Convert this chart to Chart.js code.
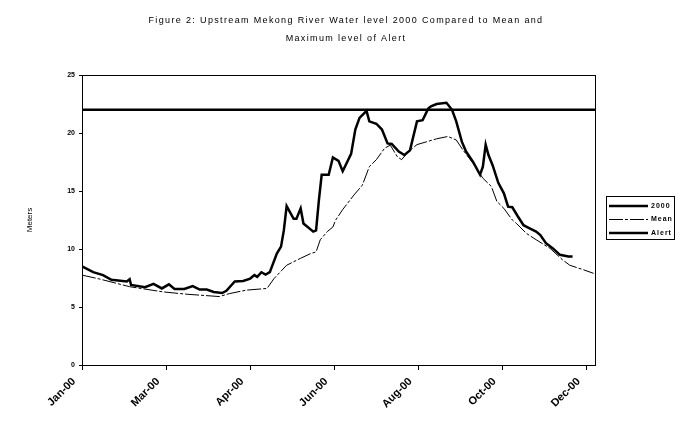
<!DOCTYPE html>
<html lang="en">
<head>
    <meta charset="UTF-8">
    <title>Upstream Mekong River Water level 2000</title>
    <style>
        body {
            margin: 0;
            padding: 0;
            background: #fff;
        }
        #chartBox {
            width: 683px;
            height: 434px;
        }
    </style>
    <script src="https://cdn.jsdelivr.net/npm/chart.js"></script>
</head>
<body>
    <div id="chartBox">
        <canvas id="levelChart" width="683" height="434"></canvas>
    </div>

    <script>
        // day of year (0 = 1 Jan 2000) and water level in meters
        const days2000 = [0, 8, 15, 21, 32, 34, 35, 45, 51, 57, 62, 66, 73, 79, 84, 89, 94, 100, 103, 109,
            115, 120, 123, 125, 128, 131, 134, 139, 142, 144, 146, 151, 153, 156, 158, 165, 167, 169, 171, 176,
            179, 183, 186, 192, 195, 198, 203, 205, 210, 214, 218, 221, 226, 230, 234, 239, 243, 247, 249, 253,
            260, 264, 267, 271, 274, 279, 284, 286, 288, 290, 293, 297, 301, 304, 307, 311, 315, 319, 324, 327,
            331, 336, 341, 347, 350];
        const level2000 = [8.5, 8.0, 7.75, 7.35, 7.2, 7.4, 6.9, 6.7, 7.0, 6.6, 6.95, 6.55, 6.55, 6.8, 6.5, 6.5, 6.3, 6.2, 6.4, 7.2,
            7.25, 7.45, 7.75, 7.6, 8.0, 7.8, 8.0, 9.6, 10.2, 11.6, 13.7, 12.6, 12.6, 13.5, 12.2, 11.5, 11.6, 14.2, 16.4, 16.4,
            17.9, 17.6, 16.7, 18.2, 20.3, 21.3, 21.9, 21.0, 20.8, 20.3, 19.1, 19.05, 18.4, 18.1, 18.5, 21.0, 21.1, 22.1, 22.3, 22.5,
            22.6, 22.0, 21.0, 19.25, 18.4, 17.5, 16.4, 17.1, 19.0, 18.1, 17.2, 15.7, 14.8, 13.65, 13.6, 12.8, 12.05, 11.8, 11.5, 11.2,
            10.5, 10.05, 9.5, 9.35, 9.35];

        const daysMean = [0, 13, 34, 58, 75, 98, 105, 117, 132, 137, 146, 156, 163, 167, 170, 175, 179, 181, 186, 194,
            200, 205, 210, 216, 220, 225, 228, 233, 239, 246, 253, 261, 267, 272, 279, 286, 292, 296, 301, 307,
            310, 317, 324, 334, 343, 348, 358, 365];
        const levelMean = [7.75, 7.4, 6.75, 6.3, 6.1, 5.9, 6.15, 6.45, 6.6, 7.45, 8.6, 9.2, 9.6, 9.75, 10.8, 11.5, 11.9, 12.5, 13.4, 14.65,
            15.5, 17.1, 17.7, 18.7, 18.95, 17.95, 17.7, 18.4, 19.0, 19.25, 19.5, 19.7, 19.4, 18.5, 17.4, 16.1, 15.4, 14.1, 13.5, 12.5,
            12.2, 11.35, 10.8, 10.05, 9.05, 8.6, 8.2, 7.9];

        const daysAlert = [0, 366];
        const levelAlert = [22, 22];

        const tickDays = [0, 60, 120, 180, 240, 300, 360];
        const tickLabels = ['Jan-00', 'Mar-00', 'Apr-00', 'Jun-00', 'Aug-00', 'Oct-00', 'Dec-00'];

        const titleLines = ['Figure 2: Upstream Mekong River Water level 2000 Compared to Mean and',
                            'Maximum level of Alert'];

        const toPoints = (xs, ys) => xs.map((d, i) => ({ x: d, y: ys[i] }));

        // Excel-style extras: spaced-out title, plot frame, boxed legend on the right
        const decorPlugin = {
            id: 'decor',
            afterDraw(chart) {
                const ctx = chart.ctx;
                const a = chart.chartArea;
                ctx.save();
                ctx.strokeStyle = '#000';
                ctx.fillStyle = '#000';
                ctx.lineWidth = 1;
                ctx.strokeRect(a.left + 0.5, a.top + 0.5, a.right - a.left, a.bottom - a.top);

                // title
                ctx.letterSpacing = '1.35px';
                ctx.font = '9px Arial, "Liberation Sans"';
                ctx.textAlign = 'center';
                ctx.textBaseline = 'middle';
                titleLines.forEach((t, i) => ctx.fillText(t, 346, 21 + i * 18));

                // legend
                ctx.letterSpacing = '1px';
                const lx = 606, ly = 196, lw = 68, lh = 43;
                ctx.strokeRect(lx + 0.5, ly + 0.5, lw, lh);
                ctx.font = 'bold 7px Arial, "Liberation Sans"';
                ctx.textAlign = 'left';
                chart.data.datasets.forEach((ds, i) => {
                    const y = ly + 10 + i * 13.5;
                    ctx.save();
                    ctx.lineWidth = ds.borderWidth;
                    ctx.setLineDash(ds.borderDash || []);
                    ctx.beginPath();
                    ctx.moveTo(lx + 3, y);
                    ctx.lineTo(lx + 42, y);
                    ctx.stroke();
                    ctx.restore();
                    ctx.fillText(ds.label, lx + 45, y);
                });
                ctx.restore();
            }
        };

        const ctx = document.getElementById('levelChart').getContext('2d');
        const chart = new Chart(ctx, {
            type: 'line',
            data: {
                datasets: [
                    {
                        label: '2000',
                        data: toPoints(days2000, level2000),
                        borderColor: '#000',
                        backgroundColor: '#000',
                        borderWidth: 2.5,
                        pointRadius: 0,
                        fill: false
                    },
                    {
                        label: 'Mean',
                        data: toPoints(daysMean, levelMean),
                        borderColor: '#000',
                        backgroundColor: '#000',
                        borderWidth: 1,
                        borderDash: [14, 2, 3, 2],
                        pointRadius: 0,
                        fill: false
                    },
                    {
                        label: 'Alert',
                        data: toPoints(daysAlert, levelAlert),
                        borderColor: '#000',
                        backgroundColor: '#000',
                        borderWidth: 2.5,
                        pointRadius: 0,
                        fill: false
                    }
                ]
            },
            options: {
                responsive: false,
                animation: false,
                layout: {
                    padding: { left: 0, right: 88, top: 75, bottom: 0 }
                },
                plugins: {
                    title: { display: false },
                    legend: { display: false },
                    tooltip: { enabled: false }
                },
                scales: {
                    x: {
                        type: 'linear',
                        min: 0,
                        max: 366,
                        afterFit: s => { s.height = 69; },
                        afterBuildTicks: s => { s.ticks = tickDays.map(v => ({ value: v })); },
                        border: { color: '#000', width: 1 },
                        grid: { drawOnChartArea: false, drawTicks: true, tickLength: 5, color: '#000' },
                        ticks: {
                            color: '#000',
                            autoSkip: false,
                            maxRotation: 45,
                            minRotation: 45,
                            labelOffset: -8,
                            padding: 5,
                            font: { family: 'Arial, "Liberation Sans"', size: 11, weight: 'bold' },
                            callback: (v) => tickLabels[tickDays.indexOf(v)]
                        }
                    },
                    y: {
                        min: 0,
                        max: 25,
                        afterFit: s => { s.width = 82; },
                        border: { color: '#000', width: 1 },
                        grid: { drawOnChartArea: false, drawTicks: true, tickLength: 3, color: '#000' },
                        ticks: {
                            stepSize: 5,
                            color: '#000',
                            padding: 4,
                            font: { family: 'Arial, "Liberation Sans"', size: 7, weight: 'bold' }
                        },
                        title: {
                            display: true,
                            text: 'Meters',
                            color: '#000',
                            font: { family: 'Arial, "Liberation Sans"', size: 8 },
                            padding: { top: 25, bottom: 0 }
                        }
                    }
                }
            },
            plugins: [decorPlugin]
        });
    </script>
</body>
</html>
